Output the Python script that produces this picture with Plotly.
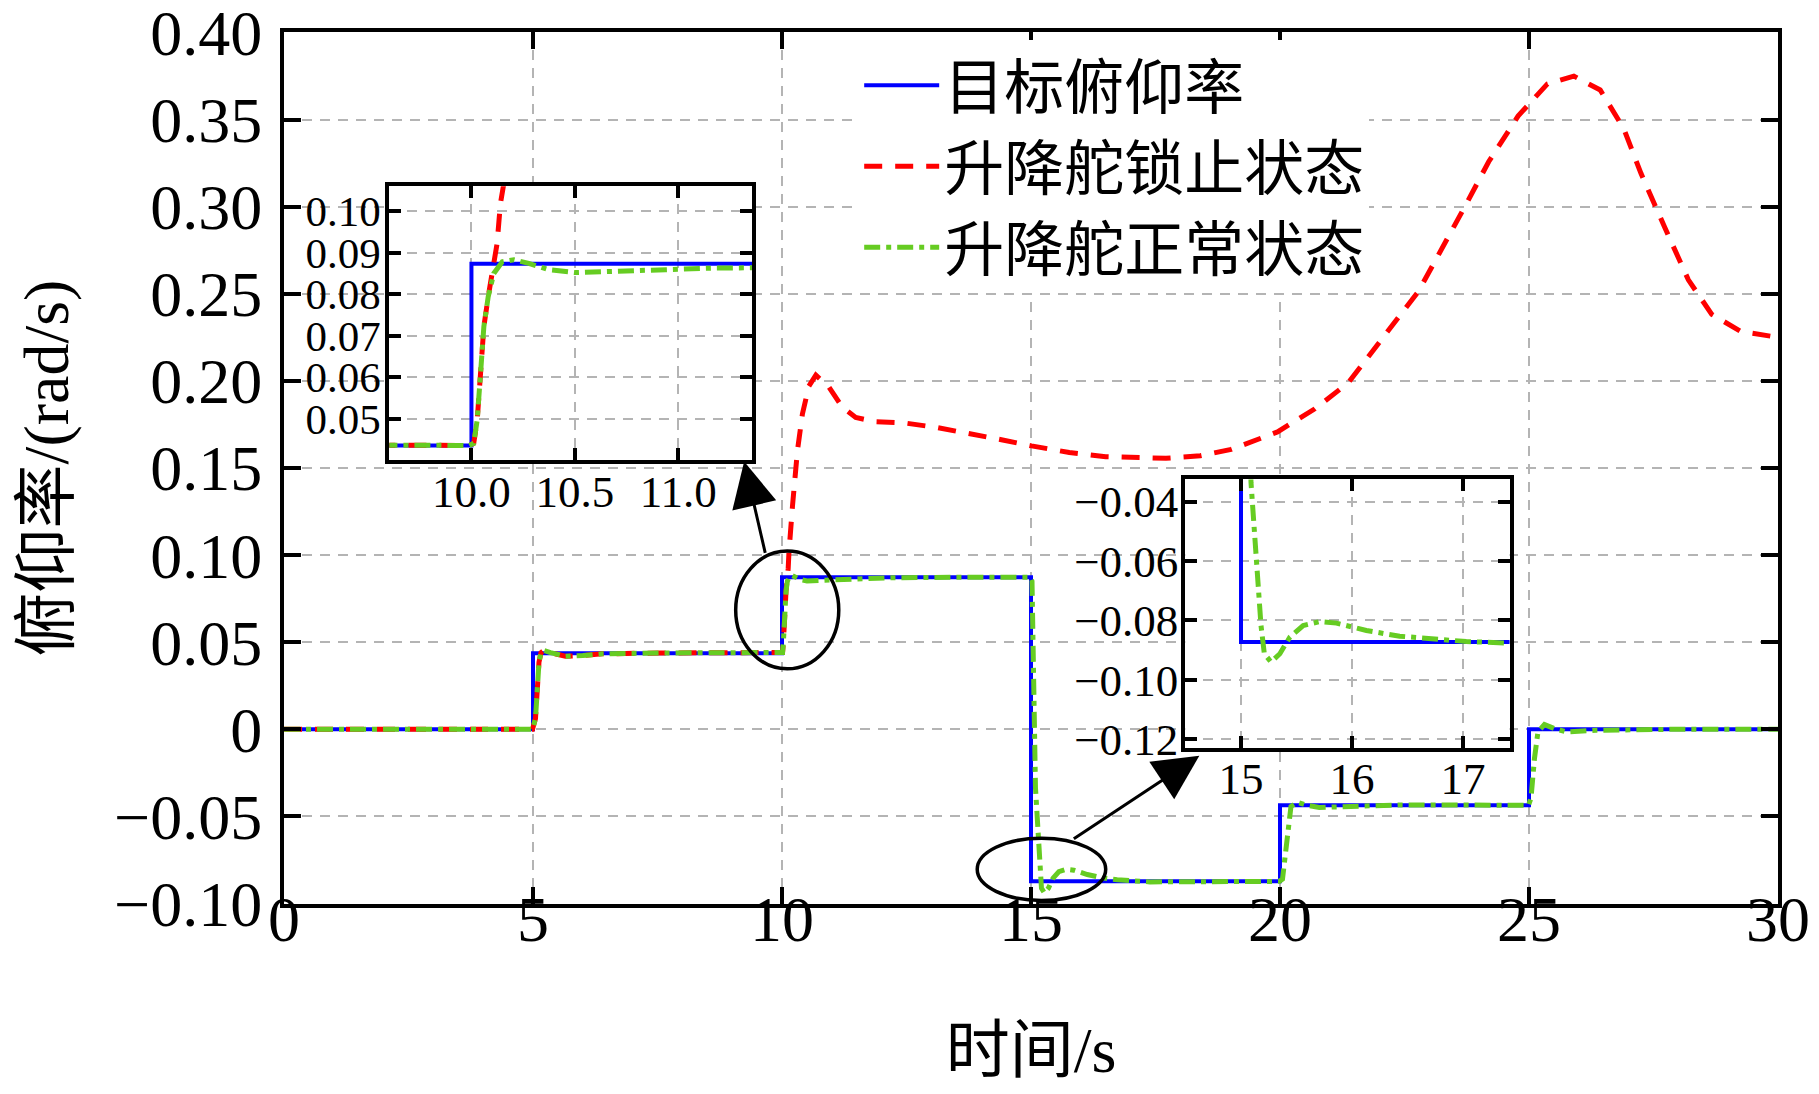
import plotly.graph_objects as go

# target pitch rate (step command)
target_t = [0, 5, 10, 15, 20, 25, 30]
target_q = [0, 0.0436, 0.0873, -0.0873, -0.0436, 0, 0]

# elevator normal state
normal_t = [0, 4.99, 5.05, 5.08, 5.12, 5.16, 5.22, 5.35, 5.65, 6.0, 6.39, 7.53, 9.99,
            10.011, 10.028, 10.044, 10.06, 10.081, 10.108, 10.149, 10.205, 10.277, 10.374,
            10.503, 10.697, 10.939, 11.18, 11.35, 12.2, 13.5, 14.99,
            15.02, 15.05, 15.07, 15.09, 15.12, 15.15, 15.18, 15.21, 15.27, 15.35, 15.44,
            15.56, 15.71, 15.86, 16.13, 16.43, 16.73, 17.03, 17.39, 18.5, 19.99,
            20.05, 20.09, 20.15, 20.22, 20.35, 20.55, 20.79, 21.46, 22.4, 24.99,
            25.04, 25.11, 25.18, 25.31, 25.5, 25.75, 26.35, 27.82, 30]
normal_q = [0, 0, 0.0061, 0.0251, 0.0385, 0.0440, 0.0452, 0.0440, 0.0419, 0.0424, 0.0433, 0.0438, 0.0436,
            0.0441, 0.0498, 0.0618, 0.0722, 0.0794, 0.0850, 0.0878, 0.0883, 0.0874, 0.0859,
            0.0852, 0.0854, 0.0859, 0.0863, 0.0866, 0.0870, 0.0873, 0.0873,
            0.085, 0.05, 0.0, -0.0336, -0.0515, -0.0683, -0.0817, -0.0912, -0.0940, -0.0912, -0.0856,
            -0.0817, -0.0804, -0.0809, -0.0834, -0.0853, -0.0864, -0.0871, -0.0876, -0.0875, -0.0873,
            -0.086, -0.0758, -0.0567, -0.0443, -0.0419, -0.0437, -0.0449, -0.0443, -0.0434, -0.0436,
            -0.0396, -0.0167, -0.0015, 0.0027, 0.0005, -0.0015, -0.0006, 0.0, 0.0]

# elevator locked state (same as normal until ~10.08 s)
locked_t_tail = [10.124, 10.14, 10.21, 10.31, 10.41, 10.54, 10.68, 10.94, 11.21, 11.48, 11.88,
                 12.42, 13.08, 13.76, 14.43, 15.01, 15.77, 16.5, 17.37, 17.71, 18.4, 19.02,
                 19.95, 20.7, 21.37, 22.07, 22.78, 23.73, 24.19, 24.78, 25.37, 25.9, 26.43,
                 26.9, 27.25, 27.72, 28.2, 28.67, 29.25, 30.0]
locked_q_tail = [0.0922, 0.1018, 0.128, 0.160, 0.181, 0.197, 0.2033, 0.1966, 0.185, 0.179, 0.1766,
                 0.176, 0.1734, 0.170, 0.1661, 0.1627, 0.1589, 0.1565, 0.1554, 0.1556, 0.157, 0.1607,
                 0.1707, 0.184, 0.1989, 0.225, 0.2514, 0.301, 0.3258, 0.352, 0.3705, 0.375, 0.367,
                 0.345, 0.319, 0.2885, 0.258, 0.2382, 0.2284, 0.225]

x_ticks = [0, 5, 10, 15, 20, 25, 30]
y_ticks = [-0.10, -0.05, 0, 0.05, 0.10, 0.15, 0.20, 0.25, 0.30, 0.35, 0.40]
y_tick_text = ['\u22120.10', '\u22120.05', '0', '0.05', '0.10', '0.15', '0.20',
               '0.25', '0.30', '0.35', '0.40']
in1_x_ticks = [10.0, 10.5, 11.0]
in1_x_text = ['10.0', '10.5', '11.0']
in1_y_ticks = [0.05, 0.06, 0.07, 0.08, 0.09, 0.10]
in1_y_text = ['0.05', '0.06', '0.07', '0.08', '0.09', '0.10']
in2_x_ticks = [15, 16, 17]
in2_y_ticks = [-0.12, -0.10, -0.08, -0.06, -0.04]
in2_y_text = ['\u22120.12', '\u22120.10', '\u22120.08', '\u22120.06', '\u22120.04']

names = ['目标俯仰率', '升降舵锁止状态', '升降舵正常状态']

cut = sum(1 for t in normal_t if t <= 10.081)
locked_t = normal_t[:cut] + locked_t_tail
locked_q = normal_q[:cut] + locked_q_tail

FONT = 'Liberation Serif, Noto Sans CJK SC'
BLUE = '#0000ff'
RED = '#ff0000'
GREEN = '#66cc22'

fig = go.Figure()
for k, (xa, ya) in enumerate([('x', 'y'), ('x2', 'y2'), ('x3', 'y3')]):
    show = (k == 0)
    fig.add_trace(go.Scatter(x=target_t, y=target_q, mode='lines', line_shape='hv',
                             line=dict(color=BLUE, width=4), name=names[0],
                             showlegend=show, xaxis=xa, yaxis=ya))
    fig.add_trace(go.Scatter(x=locked_t, y=locked_q, mode='lines',
                             line=dict(color=RED, width=5, dash='18px,13px'), name=names[1],
                             showlegend=show, xaxis=xa, yaxis=ya))
    fig.add_trace(go.Scatter(x=normal_t, y=normal_q, mode='lines',
                             line=dict(color=GREEN, width=5, dash='16px,6px,5px,6px'), name=names[2],
                             showlegend=show, xaxis=xa, yaxis=ya))

axis_common = dict(ticks='inside', showline=True, linecolor='black', mirror='ticks',
                   showgrid=True, gridcolor='#b4b4b4', griddash='10px,8px', gridwidth=2,
                   zeroline=False, tickcolor='black', ticklabeloverflow='allow',
                   automargin=False)

fig.update_layout(
    width=1803, height=1078,
    margin=dict(l=276, r=33, t=24, b=182),
    paper_bgcolor='white', plot_bgcolor='white',
    font=dict(family=FONT, color='black'),
    xaxis=dict(domain=[0, 1], range=[0, 30], tickvals=x_ticks, ticklen=17, tickwidth=4,
               linewidth=4, tickfont=dict(size=64), ticklabelstandoff=-44,
               title=dict(text='时间/s', font=dict(size=64), standoff=74), **axis_common),
    yaxis=dict(domain=[0, 1], range=[-0.1003, 0.4003], tickvals=y_ticks, ticktext=y_tick_text,
               ticklen=17, tickwidth=4, linewidth=4, tickfont=dict(size=64), ticklabelstandoff=5,
               title=dict(text='俯仰率/(rad/s)', font=dict(size=64), standoff=26), **axis_common),
    xaxis2=dict(anchor='y2', domain=[0.0705, 0.3135], range=[9.603, 11.358],
                tickvals=in1_x_ticks, ticktext=in1_x_text, ticklen=12, tickwidth=4, linewidth=4,
                tickfont=dict(size=45), ticklabelstandoff=-11, **axis_common),
    yaxis2=dict(anchor='x2', domain=[0.5097, 0.8232], range=[0.0402, 0.106],
                tickvals=in1_y_ticks, ticktext=in1_y_text, ticklen=12, tickwidth=4, linewidth=4,
                tickfont=dict(size=43), ticklabelstandoff=-4, **axis_common),
    xaxis3=dict(anchor='y3', domain=[0.6033, 0.8203], range=[14.498, 17.42],
                tickvals=in2_x_ticks, ticklen=12, tickwidth=4, linewidth=4,
                tickfont=dict(size=45), ticklabelstandoff=-12, **axis_common),
    yaxis3=dict(anchor='x3', domain=[0.1791, 0.4869], range=[-0.1229, -0.0325],
                tickvals=in2_y_ticks, ticktext=in2_y_text, ticklen=12, tickwidth=4, linewidth=4,
                tickfont=dict(size=45), ticklabelstandoff=-6, **axis_common),
    legend=dict(x=0.385, y=0.846, xanchor='left', yanchor='middle', bgcolor='white',
                borderwidth=0, font=dict(size=60, family=FONT), itemwidth=75,
                tracegroupgap=0),
    shapes=[
        dict(type='circle', xref='x', yref='y', x0=9.07, x1=11.14, y0=0.0347, y1=0.1023,
             line=dict(color='black', width=3.5)),
        dict(type='circle', xref='x', yref='y', x0=13.92, x1=16.50, y0=-0.0983, y1=-0.0625,
             line=dict(color='black', width=3.5)),
    ],
    annotations=[
        dict(x=9.24, y=0.1537, ax=9.67, ay=0.1004, xref='x', yref='y', axref='x', ayref='y',
             text='', showarrow=True, arrowhead=2, arrowsize=3, arrowwidth=3, arrowcolor='black'),
        dict(x=18.38, y=-0.0152, ax=15.83, ay=-0.0634, xref='x', yref='y', axref='x', ayref='y',
             text='', showarrow=True, arrowhead=2, arrowsize=3, arrowwidth=3, arrowcolor='black'),
    ],
)

fig.write_html("out.html")
